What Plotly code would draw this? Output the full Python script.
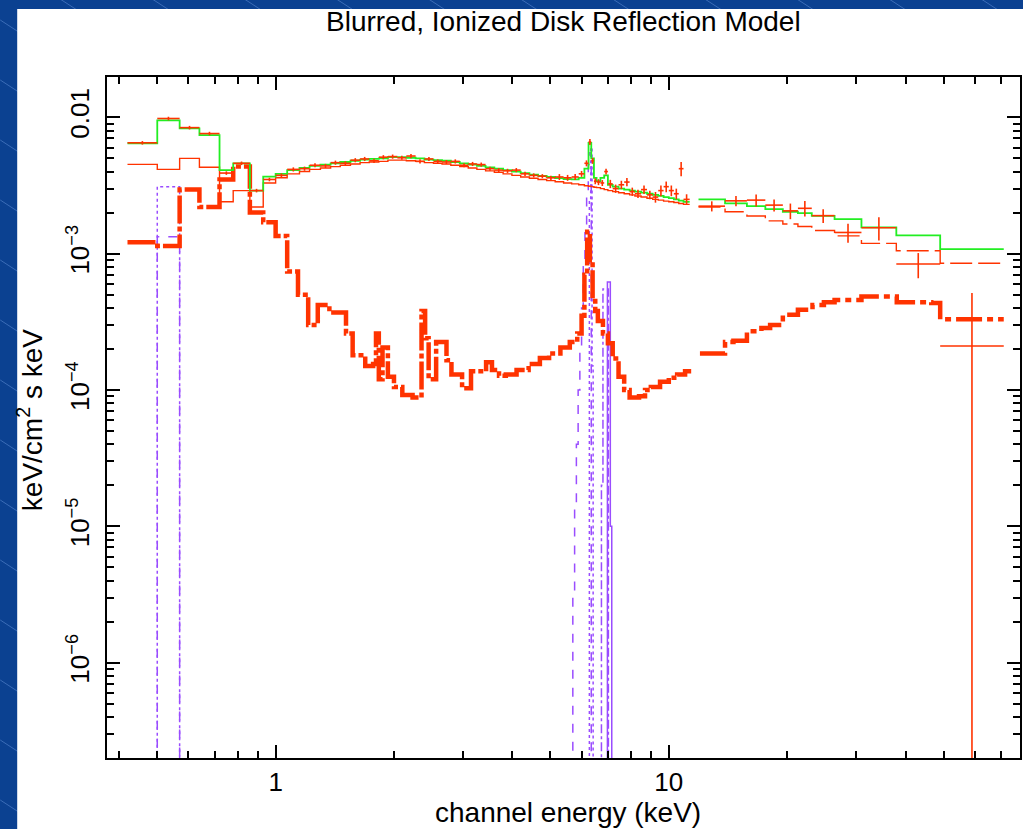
import numpy as np
import plotly.graph_objects as go

# ---------------- data ----------------
# XIS-like channel grid (keV)
xis_edges = [0.42, 0.50, 0.57, 0.64, 0.72, 0.78, 0.86, 0.93, 1.00,
             1.07, 1.15, 1.22, 1.30, 1.38, 1.46, 1.55, 1.64, 1.73, 1.83,
             1.93, 2.04, 2.15, 2.27, 2.39, 2.52, 2.65, 2.79, 2.94, 3.09,
             3.25, 3.42, 3.60, 3.79, 3.99, 4.20, 4.42, 4.65, 4.89, 5.14,
             5.40, 5.66, 5.90, 6.10, 6.25, 6.35, 6.45, 6.55, 6.70, 6.85,
             7.00, 7.20, 7.45, 7.70, 7.95, 8.20, 8.50, 8.80, 9.10, 9.40,
             9.70, 10.0, 10.3, 10.6, 10.9, 11.3]

xis_data = [6.5e-3, 9.8e-3, 8.4e-3, 7.6e-3, 3.9e-3, 4.6e-3, 2.9e-3, 3.5e-3,
            3.75e-3, 4.15e-3, 4.2e-3, 4.45e-3, 4.4e-3, 4.65e-3, 4.6e-3, 4.85e-3, 4.95e-3, 4.8e-3,
            5.1e-3, 5.15e-3, 5.05e-3, 5.2e-3, 4.75e-3, 4.95e-3, 4.75e-3, 4.7e-3, 4.75e-3, 4.45e-3,
            4.55e-3, 4.5e-3, 4.2e-3, 4.1e-3, 4.05e-3, 4.1e-3, 3.85e-3, 3.75e-3, 3.7e-3, 3.6e-3,
            3.65e-3, 3.6e-3, 3.65e-3, 3.85e-3, 4.6e-3, 6.6e-3, 4.8e-3, 3.4e-3, 3.35e-3, 3.3e-3,
            4.0e-3, 3.25e-3, 3.0e-3, 3.2e-3, 3.35e-3, 2.85e-3, 2.75e-3, 2.95e-3, 2.7e-3, 2.6e-3,
            2.9e-3, 3.1e-3, 2.9e-3, 2.75e-3, 4.2e-3, 2.5e-3]

xis_relerr = [0.03, 0.03, 0.03, 0.03, 0.03, 0.03, 0.03, 0.03,
              0.035, 0.035, 0.035, 0.035, 0.035, 0.035, 0.035, 0.035, 0.035, 0.035,
              0.035, 0.035, 0.035, 0.035, 0.035, 0.035, 0.035, 0.035, 0.035, 0.035,
              0.035, 0.035, 0.035, 0.035, 0.035, 0.035, 0.035, 0.035, 0.035, 0.035,
              0.05, 0.05, 0.05, 0.05, 0.05, 0.05, 0.05, 0.05, 0.05, 0.05,
              0.05, 0.07, 0.07, 0.07, 0.07, 0.07, 0.07, 0.07, 0.07, 0.09,
              0.09, 0.09, 0.09, 0.09, 0.12, 0.09]

xis_total_model = [6.45e-3, 9.5e-3, 8.3e-3, 7.4e-3, 4.1e-3, 4.6e-3, 2.9e-3, 3.67e-3,
                   3.85e-3, 4.1e-3, 4.25e-3, 4.4e-3, 4.5e-3, 4.6e-3, 4.7e-3, 4.8e-3, 4.9e-3, 4.95e-3,
                   5.0e-3, 5.1e-3, 5.1e-3, 5.05e-3, 5.0e-3, 4.9e-3, 4.85e-3, 4.8e-3, 4.7e-3, 4.6e-3,
                   4.5e-3, 4.4e-3, 4.3e-3, 4.2e-3, 4.1e-3, 4.0e-3, 3.9e-3, 3.8e-3, 3.72e-3, 3.65e-3,
                   3.58e-3, 3.52e-3, 3.5e-3, 3.6e-3, 4.2e-3, 6.5e-3, 5.0e-3, 3.6e-3, 3.4e-3, 3.6e-3,
                   3.75e-3, 3.2e-3, 3.1e-3, 3.0e-3, 2.95e-3, 2.9e-3, 2.85e-3, 2.8e-3, 2.75e-3, 2.7e-3,
                   2.65e-3, 2.6e-3, 2.55e-3, 2.5e-3, 2.45e-3, 2.4e-3]

xis_continuum = [4.52e-3, 4.15e-3, 5.0e-3, 4.3e-3, 2.4e-3, 2.9e-3, 2.2e-3, 3.3e-3,
                 3.6e-3, 3.85e-3, 4.0e-3, 4.15e-3, 4.25e-3, 4.35e-3, 4.45e-3, 4.55e-3, 4.65e-3, 4.7e-3,
                 4.75e-3, 4.85e-3, 4.85e-3, 4.8e-3, 4.75e-3, 4.65e-3, 4.6e-3, 4.55e-3, 4.45e-3, 4.35e-3,
                 4.25e-3, 4.15e-3, 4.05e-3, 3.95e-3, 3.85e-3, 3.75e-3, 3.65e-3, 3.57e-3, 3.5e-3, 3.43e-3,
                 3.37e-3, 3.3e-3, 3.25e-3, 3.2e-3, 3.15e-3, 3.12e-3, 3.1e-3, 3.07e-3, 3.05e-3, 3.0e-3,
                 2.95e-3, 2.9e-3, 2.85e-3, 2.8e-3, 2.75e-3, 2.7e-3, 2.65e-3, 2.6e-3, 2.55e-3, 2.5e-3,
                 2.47e-3, 2.43e-3, 2.4e-3, 2.37e-3, 2.33e-3, 2.3e-3]

# PIN-like channel grid (keV)
pin_edges = [11.9, 13.9, 15.8, 17.6, 19.5, 21.3, 23.1, 26.4, 30.9, 37.9, 49.0, 71.1]
pin_data = [2.23e-3, 2.44e-3, 2.47e-3, 2.27e-3, 2.06e-3, 2.15e-3, 1.90e-3, 1.43e-3, 1.55e-3, 8.4e-4, 2.1e-4]
pin_err_up = [1.9e-4, 2.1e-4, 2.5e-4, 2.3e-4, 2.7e-4, 2.8e-4, 2.2e-4, 2.3e-4, 3.0e-4, 1.7e-4, 3.05e-4]
pin_err_dn = [1.9e-4, 2.1e-4, 2.5e-4, 2.3e-4, 2.7e-4, 2.8e-4, 2.2e-4, 2.3e-4, 3.0e-4, 1.8e-4, 2.099e-4]
pin_total_model = [2.50e-3, 2.34e-3, 2.23e-3, 2.12e-3, 2.03e-3, 1.98e-3, 1.89e-3, 1.79e-3, 1.56e-3, 1.36e-3, 1.08e-3]
pin_continuum = [2.2e-3, 2.03e-3, 1.89e-3, 1.74e-3, 1.65e-3, 1.58e-3, 1.48e-3, 1.35e-3, 1.19e-3, 1.05e-3, 8.5e-4]

# blurred reflection component
refl_edges = [0.42, 0.50, 0.57, 0.64, 0.72, 0.78, 0.86, 0.93, 1.00, 1.07, 1.14, 1.21,
              1.28, 1.37, 1.51, 1.57, 1.69, 1.77, 1.80, 1.83, 1.87, 1.93, 2.00, 2.10,
              2.23, 2.35, 2.40, 2.45, 2.56, 2.72, 2.80, 2.98, 3.14, 3.43, 3.55, 3.70,
              3.85, 4.10, 4.40, 4.70, 4.96, 5.30, 5.60, 5.85, 6.00, 6.10, 6.20, 6.30,
              6.40, 6.50, 6.60, 6.80, 7.00, 7.20, 7.45, 7.70, 7.95, 8.40, 8.70, 9.00,
              9.50, 10.0, 10.5, 11.0, 11.4]
refl_values = [1.21e-3, 1.14e-3, 2.95e-3, 2.2e-3, 3.5e-3, 4.35e-3, 2.0e-3, 1.7e-3,
               1.35e-3, 7.4e-4, 5.0e-4, 3.0e-4, 4.2e-4, 3.7e-4, 2.6e-4, 1.8e-4,
               1.5e-4, 1.55e-4, 2.6e-4, 1.2e-4, 2.05e-4, 1.25e-4, 1.05e-4, 9.2e-5,
               8.8e-5, 3.8e-4, 2.4e-4, 1.2e-4, 2.25e-4, 1.65e-4, 1.3e-4, 1.03e-4,
               1.37e-4, 1.6e-4, 1.4e-4, 1.27e-4, 1.3e-4, 1.4e-4, 1.55e-4, 1.72e-4,
               1.85e-4, 2.05e-4, 2.25e-4, 2.6e-4, 3.5e-4, 7.0e-4, 1.45e-3, 9.0e-4,
               4.5e-4, 3.8e-4, 3.2e-4, 2.6e-4, 2.2e-4, 1.7e-4, 1.25e-4, 1.0e-4,
               8.8e-5, 9.0e-5, 1.0e-4, 1.05e-4, 1.15e-4, 1.23e-4, 1.3e-4, 1.37e-4]
refl_hi_edges = [12.0, 13.9, 14.6, 15.8, 17.2, 18.1, 19.5, 21.3, 23.2, 24.8, 26.4, 30.9, 38.0, 46.5, 49.0, 71.1]
refl_hi_values = [1.85e-4, 2.25e-4, 2.3e-4, 2.7e-4, 2.85e-4, 3.0e-4, 3.56e-4, 3.87e-4,
                  4.2e-4, 4.4e-4, 4.58e-4, 4.85e-4, 4.4e-4, 4.35e-4, 3.3e-4]

# narrow gaussian line components (values far below the axis = off scale)
line_o_edges = [0.45, 0.50, 0.57, 0.62]
line_o1_values = [1e-9, 3.1e-3, 1e-9]
line_o2_values = [1e-9, 1.33e-3, 1e-9]
line_fe_a_edges = [5.60, 5.70, 5.76, 5.82, 5.88, 5.94, 6.00, 6.06, 6.12, 6.18, 6.24, 6.30, 6.35, 6.45]
line_fe_a_values = [1e-9, 3e-6, 1.5e-5, 4e-5, 1e-4, 2e-4, 4e-4, 8e-4, 1.5e-3, 2.8e-3, 4.5e-3, 5.5e-3, 1e-9]
line_fe_b_edges = [6.20, 6.28, 6.33, 6.38, 6.42, 6.50]
line_fe_b_values = [1e-9, 2.5e-3, 6.0e-3, 1.5e-4, 1e-9]
line_fe_c_edges = [6.60, 6.74, 6.80, 7.02, 7.10]
line_fe_c_values = [1e-9, 2e-5, 5.5e-4, 1e-9]
line_fe_d_edges = [6.90, 6.98, 7.10, 7.16, 7.25]
line_fe_d_values = [1e-9, 6.2e-4, 1e-5, 1e-9]

x_tick_vals = [1, 10]
x_tick_text = ["1", "10"]
y_tick_vals = [1e-6, 1e-5, 1e-4, 1e-3, 1e-2]
y_tick_text = ["10<sup>\u22126</sup>", "10<sup>\u22125</sup>", "10<sup>\u22124</sup>",
               "10<sup>\u22123</sup>", "0.01"]

# ---------------- styling ----------------
RED = "#ff3300"
GREEN = "#22ee22"
PURPLE = "#9a4dff"
BLUE = "#0b4191"
FONT = "Liberation Sans, Arial, Helvetica, sans-serif"

W, H = 1023, 829
L, R, T, B = 107, 1, 77, 71
PW, PH = W - L - R, H - T - B


def px_to_paper(px, py):
    return (px - L) / PW, (H - B - py) / PH


def step_xy(edges, values):
    assert len(edges) == len(values) + 1, (len(edges), len(values))
    return list(edges), list(values) + [values[-1]]


fig = go.Figure()


def add_step(edges, values, color, width, dash="solid"):
    x, y = step_xy(edges, values)
    fig.add_trace(go.Scatter(x=x, y=y, mode="lines", line_shape="hv",
                             line=dict(color=color, width=width, dash=dash),
                             hoverinfo="skip", showlegend=False))


# purple line components
add_step(line_o_edges, line_o1_values, PURPLE, 1.5, "dot")
add_step(line_o_edges, line_o2_values, PURPLE, 1.5, "dash")
add_step(line_fe_a_edges, line_fe_a_values, PURPLE, 1.5, "dash")
add_step(line_fe_b_edges, line_fe_b_values, PURPLE, 1.5, "dot")
add_step(line_fe_c_edges, line_fe_c_values, PURPLE, 1.5, "dashdot")
add_step(line_fe_d_edges, line_fe_d_values, PURPLE, 1.5, "solid")

# reflection component (thick red)
add_step(refl_edges, refl_values, RED, 4.5, "28px,3px,5px,3px")
add_step(refl_hi_edges, refl_hi_values, RED, 4.5, "26px,5px,6px,5px")

# continuum component (thin red)
add_step(xis_edges, xis_continuum, RED, 1.4, "solid")
add_step(pin_edges, pin_continuum, RED, 1.4, "22px,6px")

# total model (green)
add_step(xis_edges, xis_total_model, GREEN, 1.8, "solid")
add_step(pin_edges, pin_total_model, GREEN, 1.8, "solid")


# data crosses
def add_data(edges, values, err_up, err_dn):
    lo = np.array(edges[:-1])
    hi = np.array(edges[1:])
    xc = np.sqrt(lo * hi)
    fig.add_trace(go.Scatter(
        x=xc, y=values, mode="markers",
        marker=dict(size=1, color=RED),
        error_x=dict(type="data", symmetric=False, array=hi - xc, arrayminus=xc - lo,
                     color=RED, thickness=1.6, width=0),
        error_y=dict(type="data", symmetric=False, array=err_up, arrayminus=err_dn,
                     color=RED, thickness=1.6, width=0),
        hoverinfo="skip", showlegend=False))


xis_err = [v * e for v, e in zip(xis_data, xis_relerr)]
add_data(xis_edges, xis_data, xis_err, xis_err)
add_data(pin_edges, pin_data, pin_err_up, pin_err_dn)

# ---------------- background decoration ----------------
shapes = []
for c in range(-700, 1000, 60):
    x0, y0 = px_to_paper(0, c)
    x1, y1 = px_to_paper(W, c + 0.65 * W)
    shapes.append(dict(type="line", xref="paper", yref="paper", x0=x0, y0=y0, x1=x1, y1=y1,
                       line=dict(color="rgba(150,190,255,0.35)", width=1), layer="below"))
wx0, wy1 = px_to_paper(17, 9)
wx1, wy0 = px_to_paper(W + 20, H + 20)
shapes.append(dict(type="rect", xref="paper", yref="paper", x0=wx0, x1=wx1, y0=wy0, y1=wy1,
                   fillcolor="white", line=dict(width=0), layer="below"))

tx, ty = px_to_paper(565, 21)
xx, xy = px_to_paper(569, 812)
yx, yy = px_to_paper(30, 420)

annotations = [
    dict(text="Blurred, Ionized Disk Reflection Model", xref="paper", yref="paper",
         x=tx, y=ty, showarrow=False, xanchor="center", yanchor="middle",
         font=dict(family=FONT, size=28, color="black")),
    dict(text="channel energy (keV)", xref="paper", yref="paper",
         x=xx, y=xy, showarrow=False, xanchor="center", yanchor="middle",
         font=dict(family=FONT, size=28, color="black")),
    dict(text="keV/cm<sup>2</sup> s keV", xref="paper", yref="paper",
         x=yx, y=yy, showarrow=False, xanchor="center", yanchor="middle", textangle=-90,
         font=dict(family=FONT, size=28, color="black")),
]

x_minor = [0.4, 0.5, 0.6, 0.7, 0.8, 0.9, 2, 3, 4, 5, 6, 7, 8, 9, 20, 30, 40, 50, 60, 70]
y_minor = [m * 10.0 ** e for e in range(-7, -1) for m in range(2, 10)]

fig.update_layout(
    width=W, height=H,
    margin=dict(l=L, r=R, t=T, b=B, pad=0),
    paper_bgcolor=BLUE,
    plot_bgcolor="white",
    shapes=shapes,
    annotations=annotations,
    showlegend=False,
    font=dict(family=FONT, color="black"),
    xaxis=dict(type="log", range=[np.log10(0.3725), np.log10(78.2)],
               tickvals=x_tick_vals, ticktext=x_tick_text,
               ticks="inside", ticklen=13, tickwidth=1.5, tickcolor="black",
               showline=True, linecolor="black", linewidth=1.5, mirror="allticks",
               showgrid=False, zeroline=False,
               tickfont=dict(family=FONT, size=26, color="black"),
               minor=dict(tickvals=x_minor, ticks="inside", ticklen=7, tickwidth=1.5,
                          tickcolor="black", showgrid=False)),
    yaxis=dict(type="log", range=[-6.699, -1.7044],
               tickvals=y_tick_vals, ticktext=y_tick_text, tickangle=-90,
               ticks="inside", ticklen=13, tickwidth=1.5, tickcolor="black",
               showline=True, linecolor="black", linewidth=1.5, mirror="allticks",
               showgrid=False, zeroline=False, ticklabelstandoff=6,
               tickfont=dict(family=FONT, size=26, color="black"),
               minor=dict(tickvals=y_minor, ticks="inside", ticklen=7, tickwidth=1.5,
                          tickcolor="black", showgrid=False)),
)

fig.write_html(
    "out.html",
    config={"displayModeBar": False},
    post_script="document.body.style.margin='0px';document.body.style.padding='0px';"
                "document.body.style.overflow='hidden';document.body.style.background='" + BLUE + "';",
)
